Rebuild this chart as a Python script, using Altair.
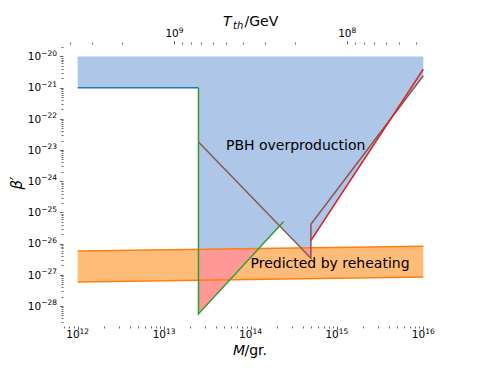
import altair as alt
import pandas as pd

# ---------------- data (M in grams, beta') ----------------
blue_line_M = [1e12, 2.5e13]
blue_line_b = [1e-21, 1e-21]

green_M = [2.5e13, 2.5e13, 2.42e14]
green_b = [1e-21, 5.6e-29, 5.1e-26]

brown_M = [2.5e13, 5e14, 5e14, 1e16]
brown_b = [1.8e-23, 3.4e-27, 4.2e-26, 2.4e-21]

red_M = [5e14, 1e16]
red_b = [1.26e-26, 3.9e-21]

reheat_M = [1e12, 1e16]
reheat_hi = [5.8e-27, 8.3e-27]
reheat_lo = [5.9e-28, 8.5e-28]

over_M = [1e12, 2.5e13, 2.5001e13, 1.25e14, 2.17e14, 3.84e14, 4.999e14, 5e14, 4.25e15, 1e16]
over_lo = [1e-21, 1e-21, 6.6e-27, 7.0e-27, 3.7e-26, 7.3e-27, 7.4e-27, 1.26e-26, 1.05e-22, 2.4e-21]
over_hi = [1e-20] * len(over_M)

pink_group = ["a", "a", "b", "b"]
pink_M = [2.5e13, 1.25e14, 3.84e14, 5e14]
pink_lo = [5.6e-29, 7.0e-27, 7.3e-27, 3.4e-27]
pink_hi = [6.6e-27, 7.0e-27, 7.3e-27, 7.4e-27]

text_labels = ["PBH overproduction", "Predicted by reheating"]
text_M = [5.2e13, 1e14]
text_b = [1.35e-23, 2.3e-27]

# tick decades; labelled decades
x_decades = [11, 12, 13, 14, 15, 16]
x_labelled = [12, 13, 14, 15, 16]
y_decades = list(range(-29, -19))
y_labelled = list(range(-28, -19))
t_decades = [7, 8, 9]
t_labelled = [8, 9]

# ---------------- helpers ----------------
FONT = "DejaVu Sans"
BASE_SIZE = 10.5
SUP_SIZE = 7.5
DIGIT = 0.636   # DejaVu Sans digit advance (em)
MINUS = 0.838   # U+2212 advance (em)


def exp_str(n):
    return ("−" if n < 0 else "") + str(abs(n))


def exp_width(n):
    s = exp_str(n)
    return SUP_SIZE * sum(MINUS if c == "−" else DIGIT for c in s)


W10 = 2 * DIGIT * BASE_SIZE


def tick_values(decades, lo, hi):
    vals = []
    for n in decades:
        for k in range(1, 10):
            v = float(f"{k}e{n}")
            if lo <= v <= hi:
                vals.append(v)
    return vals


def major_test(decades):
    return " || ".join(f"datum.value == {float(f'1e{n}')!r}" for n in decades)


def make_axis(decades, lo, hi, orient):
    return alt.Axis(
        orient=orient,
        values=tick_values(decades, lo, hi),
        labels=False,
        tickSize={"condition": {"test": major_test(decades), "value": 3.5}, "value": 2},
        tickColor="#666",
        tickWidth=1,
        domain=False,
        grid=False,
        title=None,
    )


x_lo, x_hi = 10 ** 11.83, 10 ** 16.17
y_lo, y_hi = 10 ** -28.64, 10 ** -19.6
xscale = alt.Scale(type="log", domain=[x_lo, x_hi], nice=False)
yscale = alt.Scale(type="log", domain=[y_lo, y_hi], nice=False)
xaxis = make_axis(x_decades, x_lo, x_hi, "bottom")
yaxis = make_axis(y_decades, y_lo, y_hi, "left")

X = alt.X("M:Q", scale=xscale, axis=xaxis)
Y = alt.Y("b:Q", scale=yscale, axis=yaxis)

# ---------------- layers ----------------
over_df = pd.DataFrame({"M": over_M, "b": over_lo, "b2": over_hi})
over = alt.Chart(over_df).mark_area(color="#aec7e8", opacity=1, interpolate="linear").encode(
    x=X, y=Y, y2="b2:Q"
)

reheat_df = pd.DataFrame({"M": reheat_M, "b": reheat_lo, "b2": reheat_hi})
reheat_fill = alt.Chart(reheat_df).mark_area(color="#ffbb78", opacity=1).encode(x=X, y=Y, y2="b2:Q")

pink_df = pd.DataFrame({"g": pink_group, "M": pink_M, "b": pink_lo, "b2": pink_hi})
pink = alt.Chart(pink_df).mark_area(color="#ff9896", opacity=1).encode(
    x=X, y=Y, y2="b2:Q", detail="g:N"
)

line_rows = []
for name, ms, bs in [
    ("top", reheat_M, reheat_hi),
    ("bot", reheat_M, reheat_lo),
    ("blue", blue_line_M, blue_line_b),
    ("green", green_M, green_b),
    ("brown", brown_M, brown_b),
    ("red", red_M, red_b),
]:
    for i, (m, b) in enumerate(zip(ms, bs)):
        line_rows.append({"s": name, "i": i, "M": m, "b": b})
lines_df = pd.DataFrame(line_rows)
line_colors = {
    "top": "#ff7f0e",
    "bot": "#ff7f0e",
    "blue": "#1f77b4",
    "green": "#2ca02c",
    "brown": "#8c564b",
    "red": "#d62728",
}
lines = alt.Chart(lines_df).mark_line(strokeWidth=1.5, clip=True).encode(
    x=X,
    y=Y,
    order="i:Q",
    detail="s:N",
    color=alt.Color(
        "s:N",
        scale=alt.Scale(domain=list(line_colors.keys()), range=list(line_colors.values())),
        legend=None,
    ),
)

text_df = pd.DataFrame({"t": text_labels, "M": text_M, "b": text_b})
texts = alt.Chart(text_df).mark_text(
    font=FONT, fontSize=14, align="left", baseline="middle", color="black"
).encode(x=X, y=Y, text="t:N")

# ---- tick labels 10^n drawn as "10" + superscript exponent ----
xlab_df = pd.DataFrame({"M": [float(f"1e{n}") for n in x_labelled],
                        "e": [exp_str(n) for n in x_labelled]})
xw = W10 + exp_width(12)
x_dx = W10 - xw / 2
xlab_base = alt.Chart(xlab_df).mark_text(
    text="10", font=FONT, fontSize=BASE_SIZE, align="right", baseline="alphabetic",
    dx=x_dx, color="black").encode(x=X, y=alt.value(294))
xlab_sup = alt.Chart(xlab_df).mark_text(
    font=FONT, fontSize=SUP_SIZE, align="left", baseline="alphabetic",
    dx=x_dx, color="black").encode(x=X, y=alt.value(289.5), text="e:N")

ylab_df = pd.DataFrame({"b": [float(f"1e{n}") for n in y_labelled],
                        "e": [exp_str(n) for n in y_labelled]})
y_right = -6
ylab_base = alt.Chart(ylab_df).mark_text(
    text="10", font=FONT, fontSize=BASE_SIZE, align="right", baseline="alphabetic",
    dy=3.8, color="black").encode(x=alt.value(y_right - exp_width(-20)), y=Y)
ylab_sup = alt.Chart(ylab_df).mark_text(
    font=FONT, fontSize=SUP_SIZE, align="right", baseline="alphabetic",
    dy=-0.8, color="black").encode(x=alt.value(y_right), y=Y, text="e:N")

# axis titles as text marks (mixed italic / upright)
one = pd.DataFrame({"k": [0]})


def title_text(txt, px, py, size=14, style="normal", angle=0, align="left", baseline="alphabetic"):
    return alt.Chart(one).mark_text(
        text=txt, font=FONT, fontSize=size, fontStyle=style, angle=angle,
        align=align, baseline=baseline, color="black",
    ).encode(x=alt.value(px), y=alt.value(py))


titles = [
    title_text("M", 170, 311, style="italic"),
    title_text("/gr.", 181.5, 311),
    title_text("T", 160, -18, style="italic"),
    title_text("th", 170, -15, size=10, style="italic"),
    title_text("/GeV", 181.5, -18),
    title_text("β′", -46, 139, size=15, style="italic", angle=270, align="center", baseline="middle"),
]

main = alt.layer(over, reheat_fill, pink, lines, texts,
                 xlab_base, xlab_sup, ylab_base, ylab_sup, *titles)


# secondary (top) axis: T_th in GeV, T = 1e9 GeV * (M / 10^13.12 g)^(-1/2)
def m_to_t(m):
    return 1e9 * (m / 10 ** 13.12) ** -0.5


t_lo, t_hi = m_to_t(x_hi), m_to_t(x_lo)
tscale = alt.Scale(type="log", domain=[t_lo, t_hi], nice=False, reverse=True)
taxis = make_axis(t_decades, 3.5e7, 4.5e9, "top")
TX = alt.X("T:Q", scale=tscale, axis=taxis)
t_df = pd.DataFrame({"T": [t_lo, t_hi]})
top_pts = alt.Chart(t_df).mark_point(opacity=0).encode(x=TX, y=alt.value(0))

tlab_df = pd.DataFrame({"T": [float(f"1e{n}") for n in t_labelled],
                        "e": [exp_str(n) for n in t_labelled]})
tw = W10 + exp_width(9)
t_dx = W10 - tw / 2
tlab_base = alt.Chart(tlab_df).mark_text(
    text="10", font=FONT, fontSize=BASE_SIZE, align="right", baseline="alphabetic",
    dx=t_dx, color="black").encode(x=TX, y=alt.value(-7.3))
tlab_sup = alt.Chart(tlab_df).mark_text(
    font=FONT, fontSize=SUP_SIZE, align="left", baseline="alphabetic",
    dx=t_dx, color="black").encode(x=TX, y=alt.value(-11.5), text="e:N")

top = alt.layer(top_pts, tlab_base, tlab_sup)

chart = (
    alt.layer(main, top)
    .resolve_scale(x="independent")
    .properties(
        width=375,
        height=282,
        padding={"left": 55, "top": 36, "right": 45, "bottom": 34},
        autosize=alt.AutoSizeParams(type="none"),
    )
    .configure_view(stroke=None)
)

chart.save("out.html", embed_options={"renderer": "svg", "actions": False})
